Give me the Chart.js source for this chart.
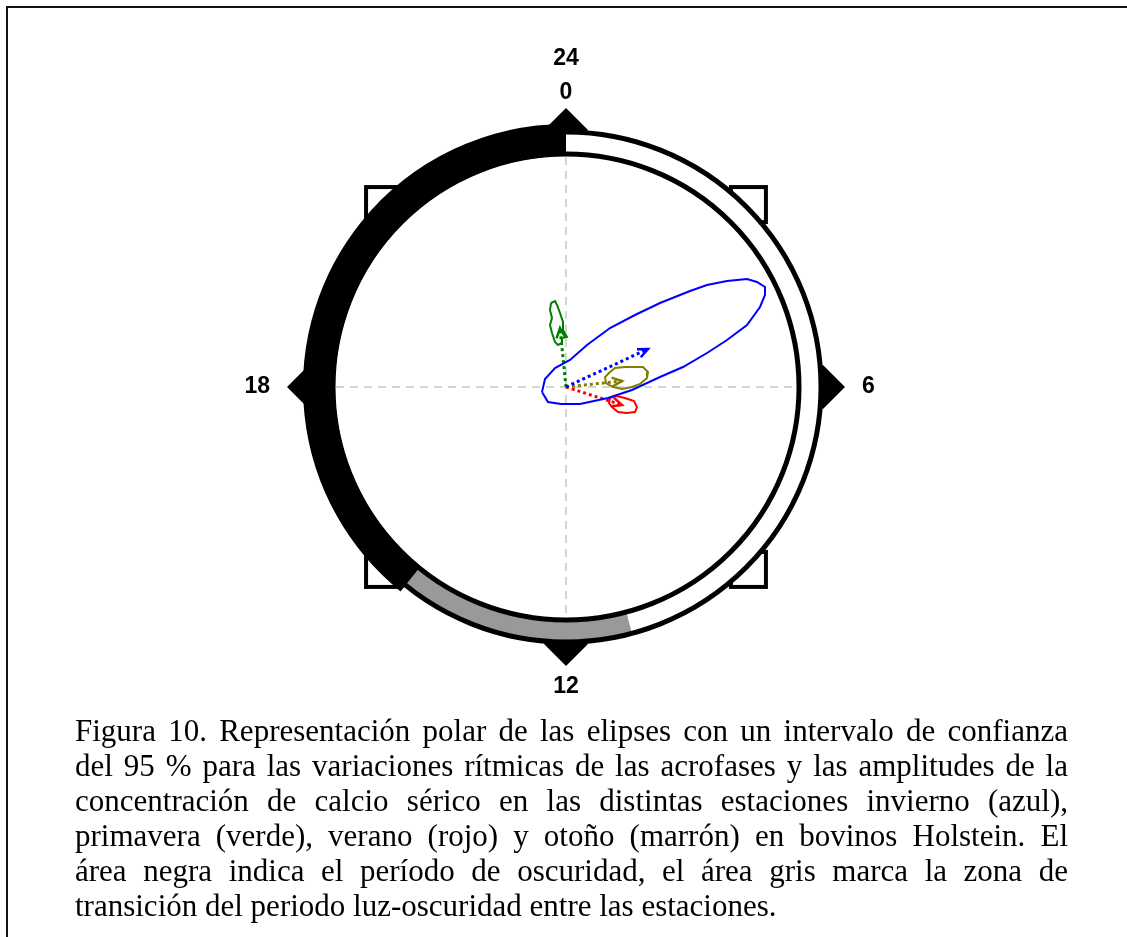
<!DOCTYPE html>
<html>
<head>
<meta charset="utf-8">
<script src="https://cdn.jsdelivr.net/npm/chart.js@4.4.0/dist/chart.umd.min.js"></script>
<style>
  html, body { margin: 0; padding: 0; background: #fff; overflow: hidden; width: 1127px; height: 937px; }
  #frame { position: absolute; left: 6px; top: 6px; width: 1150px; height: 980px;
           border-top: 2px solid #111; border-left: 2px solid #111; }
  #chart { position: absolute; left: 206px; top: 27px; }
  #caption { position: absolute; left: 75px; top: 713px; width: 993px;
             font-family: "Liberation Serif", "Times New Roman", serif; font-size: 31px;
             line-height: 35px; color: #000; }
  #caption div { text-align: justify; text-align-last: justify; white-space: nowrap; }
  #caption div.last { text-align-last: left; }
</style>
</head>
<body>
<div id="frame"></div>
<canvas id="chart" width="720" height="720"></canvas>
<div id="caption">
  <div>Figura 10. Representación polar de las elipses con un intervalo de confianza</div>
  <div>del 95 % para las variaciones rítmicas de las acrofases y las amplitudes de la</div>
  <div>concentración de calcio sérico en las distintas estaciones invierno (azul),</div>
  <div>primavera (verde), verano (rojo) y otoño (marrón) en bovinos Holstein. El</div>
  <div>área negra indica el período de oscuridad, el área gris marca la zona de</div>
  <div class="last">transición del periodo luz-oscuridad entre las estaciones.</div>
</div>
<script>
// Reloj de 24 h: 0 arriba, 6 a la derecha
const hourTicks = [0, 6, 12, 18];
const hourLabels = ['0', '6', '12', '18'];
const squareTicks = [3, 9, 15, 21];
const darkPeriod = [14.6, 24];     // área negra (oscuridad)
const transition = [11, 14.6];     // área gris (transición luz-oscuridad)

const seasons = ['invierno', 'primavera', 'verano', 'otoño'];
const seasonColors = ['#0000ff', '#008000', '#ff0000', '#808000'];

// vector acrofase/amplitud de cada estación (x, y)
const vecInvierno = [0.82, 0.38];
const vecPrimavera = [-0.06, 0.59];
const vecVerano = [0.56, -0.18];
const vecOtono = [0.56, 0.06];

// elipses de confianza del 95 %
const elipseInvierno = [[-0.24, -0.05], [-0.18, -0.15], [-0.05, -0.17], [0.14, -0.17], [0.42, -0.11],
  [0.66, -0.03], [0.94, 0.10], [1.17, 0.20], [1.41, 0.34], [1.61, 0.47], [1.81, 0.62], [1.94, 0.80],
  [1.99, 0.92], [1.99, 1.00], [1.91, 1.05], [1.81, 1.08], [1.61, 1.06], [1.41, 1.02], [1.24, 0.96],
  [0.94, 0.84], [0.69, 0.72], [0.44, 0.59], [0.21, 0.42], [0.04, 0.27], [-0.11, 0.19], [-0.21, 0.08]];
const elipsePrimavera = [[-0.15, 0.84], [-0.11, 0.86], [-0.09, 0.82], [-0.06, 0.74], [-0.03, 0.65],
  [-0.03, 0.57], [0.01, 0.50], [-0.04, 0.49], [-0.04, 0.44], [-0.08, 0.42], [-0.11, 0.45],
  [-0.14, 0.54], [-0.16, 0.62], [-0.14, 0.69], [-0.16, 0.77]];
const elipseVerano = [[0.44, -0.11], [0.49, -0.09], [0.55, -0.10], [0.62, -0.12], [0.68, -0.14],
  [0.71, -0.20], [0.69, -0.25], [0.61, -0.26], [0.52, -0.25], [0.46, -0.20], [0.43, -0.16]];
const elipseOtono = [[0.44, 0.15], [0.49, 0.19], [0.59, 0.20], [0.77, 0.20], [0.82, 0.15], [0.81, 0.09],
  [0.74, 0.03], [0.66, 0.00], [0.56, -0.02], [0.47, 0.00], [0.40, 0.04], [0.39, 0.10]];

const vectors = [vecInvierno, vecPrimavera, vecVerano, vecOtono];
const ellipses = [elipseInvierno, elipsePrimavera, elipseVerano, elipseOtono];

const datasets = [];
seasons.forEach((name, i) => {
  const pts = ellipses[i].map(p => ({ x: p[0], y: p[1] }));
  pts.push({ x: ellipses[i][0][0], y: ellipses[i][0][1] });
  datasets.push({
    label: name, data: pts, showLine: true, borderColor: seasonColors[i],
    borderWidth: 2, pointRadius: 0, tension: 0, fill: false
  });
  datasets.push({
    label: name + ' vector', arrow: true,
    data: [{ x: 0, y: 0 }, { x: vectors[i][0], y: vectors[i][1] }],
    showLine: true, borderColor: seasonColors[i], borderWidth: 3,
    borderDash: [3, 3], pointRadius: 0, fill: false
  });
});

function hourAngle(h) { return h / 24 * Math.PI * 2 - Math.PI / 2; }

const polarFrame = {
  id: 'polarFrame',
  beforeDatasetsDraw(chart) {
    const ctx = chart.ctx, xs = chart.scales.x, ys = chart.scales.y;
    const cx = xs.getPixelForValue(0), cy = ys.getPixelForValue(0);
    const u = xs.getPixelForValue(1) - cx;
    ctx.save();

    // squares at 3, 9, 15, 21 h
    squareTicks.forEach(h => {
      const a = hourAngle(h), px = cx + 2.58 * u * Math.cos(a), py = cy + 2.58 * u * Math.sin(a);
      ctx.fillStyle = '#fff'; ctx.strokeStyle = '#000'; ctx.lineWidth = 4;
      ctx.fillRect(px - 17.5, py - 17.5, 35, 35);
      ctx.strokeRect(px - 17.5, py - 17.5, 35, 35);
    });
    // diamonds at 0, 6, 12, 18 h
    hourTicks.forEach(h => {
      const a = hourAngle(h), px = cx + 2.57 * u * Math.cos(a), py = cy + 2.57 * u * Math.sin(a);
      ctx.fillStyle = '#000';
      ctx.beginPath();
      ctx.moveTo(px, py - 22); ctx.lineTo(px + 22, py); ctx.lineTo(px, py + 22); ctx.lineTo(px - 22, py);
      ctx.closePath(); ctx.fill();
    });
    // white dial
    ctx.fillStyle = '#fff';
    ctx.beginPath(); ctx.arc(cx, cy, 2.56 * u, 0, Math.PI * 2); ctx.fill();

    // dashed cross
    ctx.strokeStyle = '#c8c8c8'; ctx.lineWidth = 1.5; ctx.setLineDash([8, 6]);
    const r0 = 2.3 * u;
    ctx.beginPath();
    ctx.moveTo(cx - r0, cy); ctx.lineTo(cx + r0, cy);
    ctx.moveTo(cx, cy - r0); ctx.lineTo(cx, cy + r0);
    ctx.stroke();
    ctx.setLineDash([]);

    // grey transition band
    ctx.strokeStyle = '#999999'; ctx.lineWidth = 0.18 * u; ctx.lineCap = 'butt';
    ctx.beginPath(); ctx.arc(cx, cy, 2.44 * u, hourAngle(transition[0]), hourAngle(transition[1])); ctx.stroke();

    // ring lines
    ctx.strokeStyle = '#000'; ctx.lineWidth = 5;
    ctx.beginPath(); ctx.arc(cx, cy, 2.33 * u, 0, Math.PI * 2); ctx.stroke();
    ctx.beginPath(); ctx.arc(cx, cy, 2.55 * u, 0, Math.PI * 2); ctx.stroke();

    // dark period
    ctx.lineWidth = 0.32 * u;
    ctx.beginPath(); ctx.arc(cx, cy, 2.47 * u, hourAngle(darkPeriod[0]), hourAngle(darkPeriod[1])); ctx.stroke();
    ctx.restore();
  },
  afterDatasetsDraw(chart) {
    const ctx = chart.ctx;
    // arrowheads on the vectors
    chart.data.datasets.forEach((ds, i) => {
      if (!ds.arrow) return;
      const pts = chart.getDatasetMeta(i).data;
      const p0 = pts[0], p1 = pts[1];
      const ang = Math.atan2(p0.y - p1.y, p0.x - p1.x);
      ctx.save();
      ctx.strokeStyle = ds.borderColor; ctx.lineWidth = 2.5; ctx.lineJoin = 'miter';
      ctx.beginPath();
      ctx.moveTo(p1.x + 11 * Math.cos(ang - 0.42), p1.y + 11 * Math.sin(ang - 0.42));
      ctx.lineTo(p1.x, p1.y);
      ctx.lineTo(p1.x + 11 * Math.cos(ang + 0.42), p1.y + 11 * Math.sin(ang + 0.42));
      ctx.stroke();
      ctx.restore();
    });

    // hour labels
    const xs = chart.scales.x, ys = chart.scales.y;
    const cx = xs.getPixelForValue(0), cy = ys.getPixelForValue(0);
    const u = xs.getPixelForValue(1) - cx;
    ctx.save();
    ctx.fillStyle = '#000';
    ctx.font = 'bold 23px "Liberation Sans", Arial, sans-serif';
    ctx.textBaseline = 'middle';
    hourTicks.forEach((h, k) => {
      const a = hourAngle(h);
      const px = cx + 2.96 * u * Math.cos(a), py = cy + 2.97 * u * Math.sin(a);
      const side = h === 6 || h === 18;
      ctx.textAlign = h === 6 ? 'left' : (h === 18 ? 'right' : 'center');
      ctx.fillText(hourLabels[k], px, side ? py : py + 3);
      if (h === 0) ctx.fillText('24', px, py + 3 - 34);
    });
    ctx.restore();
  }
};

new Chart(document.getElementById('chart'), {
  type: 'scatter',
  data: { datasets: datasets },
  options: {
    responsive: false,
    animation: false,
    devicePixelRatio: 1,
    layout: { padding: 0 },
    plugins: { legend: { display: false }, tooltip: { enabled: false } },
    scales: {
      x: { type: 'linear', min: -3.6, max: 3.6, display: false },
      y: { type: 'linear', min: -3.6, max: 3.6, display: false }
    }
  },
  plugins: [polarFrame]
});
</script>
</body>
</html>
